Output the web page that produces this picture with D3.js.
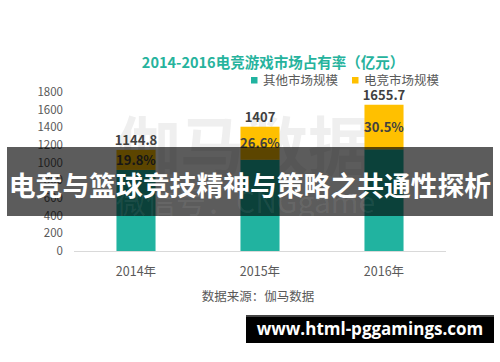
<!DOCTYPE html>
<html><head><meta charset="utf-8">
<script src="https://cdn.jsdelivr.net/npm/d3@7"></script>
<style>
html,body{margin:0;padding:0;background:#fff;}
svg{display:block;}
text{font-family:"Noto Sans CJK SC","Microsoft YaHei",sans-serif;}
</style></head>
<body>
<svg id="c" width="500" height="362"></svg>
<script>
const categories = ["2014年","2015年","2016年"];
const totals = [1144.8, 1407, 1655.7];
const esportsShare = [19.8, 26.6, 30.5];
const esportsValues = [226.7, 374.3, 505.0];
const otherValues = [918.1, 1032.7, 1150.7];
const yTicks = [0,200,400,600,800,1000,1200,1400,1600,1800];
const seriesNames = ["其他市场规模","电竞市场规模"];
const title = "2014-2016电竞游戏市场占有率（亿元）";
const source = "数据来源：伽马数据";
const banner = "电竞与篮球竞技精神与策略之共通性探析";
const site = "www.html-pggamings.com";

const colors = {other:"#21B3A0", esports:"#FFC000", title:"#26B39D", text:"#595959", label:"#404040"};

const svg = d3.select("#c");
const x = d3.scaleBand().domain(categories).range([74, 446]).padding(0);
const barW = x.bandwidth() * 0.315;
const y = d3.scaleLinear().domain([0, 1800]).range([251, 92]);

// watermark behind
svg.append("text").attr("x", 116).attr("y", 170).attr("font-size", 64).attr("font-weight", 700)
  .attr("fill", "#efefef").text("伽马数据");

// title
svg.append("text").attr("x", 273).attr("y", 68).attr("text-anchor", "middle")
  .attr("font-size", 14.5).attr("font-weight", 700).attr("fill", colors.title).text(title);

// legend
const legendX = [251, 352];
[colors.other, colors.esports].forEach((c, i) => {
  svg.append("rect").attr("x", legendX[i]).attr("y", 77).attr("width", 6.5).attr("height", 6.5).attr("fill", c);
  svg.append("text").attr("x", legendX[i] + 12).attr("y", 84.5).attr("font-size", 12.5)
    .attr("fill", colors.text).text(seriesNames[i]);
});

// y tick labels
svg.append("g").selectAll("text").data(yTicks).join("text")
  .attr("x", 63).attr("y", d => y(d) + 4).attr("text-anchor", "end")
  .attr("font-size", 11.5).attr("fill", colors.text).text(d => d);

// axis line
svg.append("line").attr("x1", 74).attr("x2", 446).attr("y1", y(0) + 0.5).attr("y2", y(0) + 0.5)
  .attr("stroke", "#d9d9d9").attr("stroke-width", 1);

// bars
const g = svg.append("g");
categories.forEach((cat, i) => {
  const cx = x(cat) + x.bandwidth() / 2;
  g.append("rect").attr("x", cx - barW / 2).attr("y", y(otherValues[i]))
    .attr("width", barW).attr("height", y(0) - y(otherValues[i])).attr("fill", colors.other);
  const top = otherValues[i] + esportsValues[i];
  g.append("rect").attr("x", cx - barW / 2).attr("y", y(top))
    .attr("width", barW).attr("height", y(otherValues[i]) - y(top)).attr("fill", colors.esports);
  g.append("text").attr("x", cx).attr("y", y(top) - 5).attr("text-anchor", "middle")
    .attr("font-size", 13).attr("font-weight", 700).attr("fill", colors.label).text(totals[i]);
  g.append("text").attr("x", cx).attr("y", (y(top) + y(otherValues[i])) / 2 + 5).attr("text-anchor", "middle")
    .attr("font-size", 13).attr("font-weight", 700).attr("fill", colors.label).text(esportsShare[i].toFixed(1) + "%");
  svg.append("text").attr("x", cx).attr("y", 276).attr("text-anchor", "middle")
    .attr("font-size", 12.5).attr("fill", colors.text).text(cat);
});

// source
svg.append("text").attr("x", 258).attr("y", 301).attr("text-anchor", "middle")
  .attr("font-size", 12.5).attr("fill", colors.text).text(source);

// banner overlay
svg.append("rect").attr("x", 7).attr("y", 147).attr("width", 486).attr("height", 69)
  .attr("fill", "#000").attr("fill-opacity", 0.64);
svg.append("text").attr("x", 116).attr("y", 213).attr("font-size", 30)
  .attr("fill", "#fff").attr("fill-opacity", 0.07).text("微信号：CNGgame");
svg.append("text").attr("x", 250).attr("y", 196).attr("text-anchor", "middle")
  .attr("font-size", 26.8).attr("font-weight", 700).attr("fill", "#fff").text(banner);

// site box
svg.append("rect").attr("x", 246).attr("y", 315).attr("width", 248).attr("height", 28).attr("fill", "#000");
svg.append("rect").attr("x", 246).attr("y", 315).attr("width", 248).attr("height", 2).attr("fill", "#444");
svg.append("text").attr("x", 370).attr("y", 335).attr("text-anchor", "middle")
  .attr("font-size", 17).attr("font-weight", 700).attr("fill", "#fff")
  .style("font-family", "'Open Sans','DejaVu Sans',sans-serif").text(site);
</script>
</body></html>
